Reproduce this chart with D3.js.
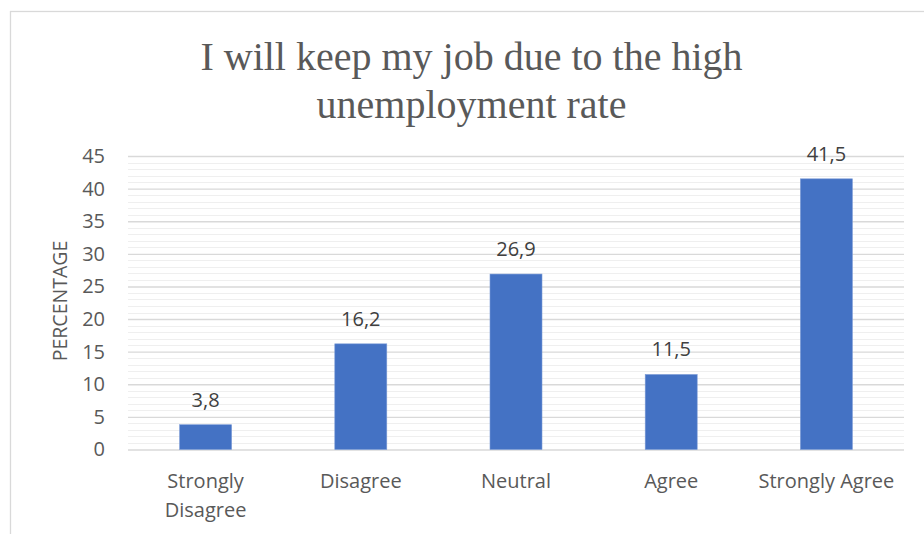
<!DOCTYPE html>
<html>
<head>
<meta charset="utf-8">
<script src="https://cdn.jsdelivr.net/npm/d3@7"></script>
<style>
  html, body { margin: 0; padding: 0; background: #fff; }
  svg { display: block; }
</style>
</head>
<body>
<svg id="chart" width="924" height="534"></svg>
<script>
// Survey responses: share of respondents per answer
const categories = [["Strongly", "Disagree"], ["Disagree"], ["Neutral"], ["Agree"], ["Strongly Agree"]];
const values = [3.8, 16.2, 26.9, 11.5, 41.5];
const valueLabels = ["3,8", "16,2", "26,9", "11,5", "41,5"];
const yTicks = [0, 5, 10, 15, 20, 25, 30, 35, 40, 45];
const titleLines = ["I will keep my job due to the high", "unemployment rate"];
const yAxisTitle = "PERCENTAGE";

const svg = d3.select("#chart");
const W = 924, H = 534;
const plot = { left: 128, right: 904, top: 156, bottom: 449.5 };
const textColor = "#595959";
const sansFont = "'Open Sans', 'Noto Sans', sans-serif";

// chart frame (right/bottom edges fall outside the view)
svg.append("rect")
  .attr("x", 10.5).attr("y", 11.5)
  .attr("width", W + 20).attr("height", H + 20)
  .attr("fill", "#fff")
  .attr("stroke", "#d9d9d9").attr("stroke-width", 1.3);

const x = d3.scaleBand()
  .domain(d3.range(categories.length))
  .range([plot.left, plot.right])
  .paddingInner(0.665)
  .paddingOuter(0.3325);

const y = d3.scaleLinear().domain([0, 45]).range([plot.bottom, plot.top]);

// minor gridlines every unit
const minor = d3.range(0, 46).filter(v => v % 5 !== 0);
svg.append("g").selectAll("line").data(minor).join("line")
  .attr("x1", plot.left).attr("x2", plot.right)
  .attr("y1", d => Math.round(y(d)) + 0.5).attr("y2", d => Math.round(y(d)) + 0.5)
  .attr("stroke", "#efefef").attr("stroke-width", 1.2);

// major gridlines via axis
const yAxis = d3.axisLeft(y).tickValues(yTicks).tickSize(-(plot.right - plot.left)).tickPadding(23);
const gy = svg.append("g").attr("transform", `translate(${plot.left},0)`).call(yAxis);
gy.select(".domain").remove();
gy.selectAll(".tick line").attr("stroke", "#d9d9d9").attr("stroke-width", 1.4);
gy.selectAll(".tick text")
  .attr("fill", textColor)
  .style("font-family", sansFont)
  .style("font-size", "20px");

// bars
svg.append("g").selectAll("rect").data(values).join("rect")
  .attr("x", (d, i) => x(i))
  .attr("width", x.bandwidth())
  .attr("y", d => y(d))
  .attr("height", d => y(0) - y(d))
  .attr("fill", "#4472c4")
  .attr("stroke", "#7b9bd6").attr("stroke-width", 0.6);

// value labels
svg.append("g").selectAll("text").data(values).join("text")
  .attr("x", (d, i) => x(i) + x.bandwidth() / 2)
  .attr("y", d => y(d) - 18)
  .attr("text-anchor", "middle")
  .attr("fill", "#404040")
  .style("font-family", sansFont)
  .style("font-size", "20px")
  .text((d, i) => valueLabels[i]);

// category labels
const cat = svg.append("g").selectAll("text").data(categories).join("text")
  .attr("text-anchor", "middle")
  .attr("fill", textColor)
  .style("font-family", sansFont)
  .style("font-size", "20px");
cat.each(function(lines, i) {
  const t = d3.select(this);
  lines.forEach((ln, k) => {
    t.append("tspan")
      .attr("x", x(i) + x.bandwidth() / 2)
      .attr("y", 488 + k * 29)
      .text(ln);
  });
});

// axis title
svg.append("text")
  .attr("transform", `translate(67,301) rotate(-90)`)
  .attr("text-anchor", "middle")
  .attr("fill", textColor)
  .style("font-family", sansFont)
  .style("font-size", "19.5px")
  .text(yAxisTitle);

// chart title
svg.append("g").selectAll("text").data(titleLines).join("text")
  .attr("x", 471.5)
  .attr("y", (d, i) => 70 + i * 48)
  .attr("text-anchor", "middle")
  .attr("fill", textColor)
  .style("font-family", "'Liberation Serif', 'Times New Roman', serif")
  .style("font-size", "40px")
  .text(d => d);
</script>
</body>
</html>
